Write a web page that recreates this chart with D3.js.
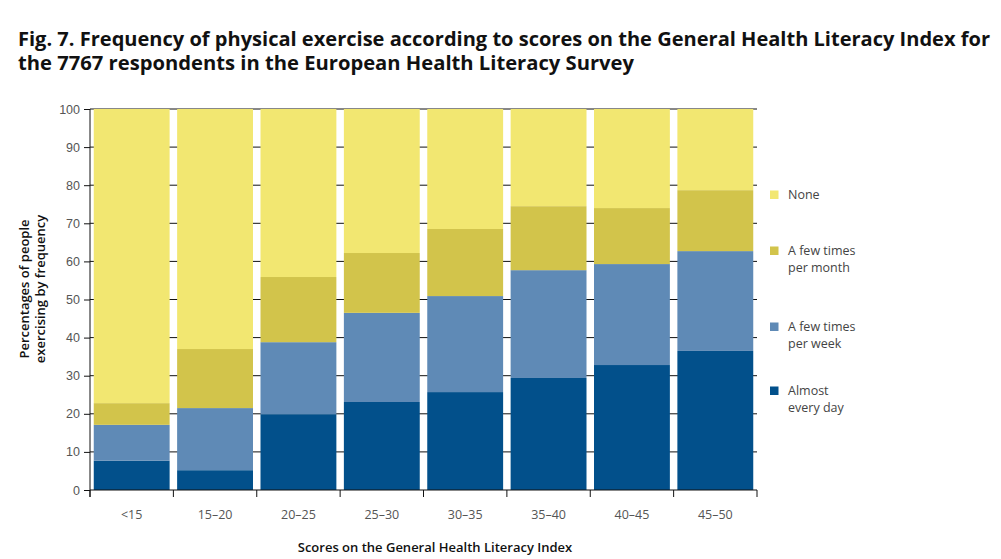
<!DOCTYPE html>
<html>
<head>
<meta charset="utf-8">
<script src="https://cdn.jsdelivr.net/npm/d3@7"></script>
<style>
  body { margin: 0; background: #fff; }
  svg { display: block; font-family: "Open Sans", sans-serif; }
  .tick text { fill: #555; font-size: 12.5px; }
  .legend text { fill: #444; font-size: 12.5px; }
</style>
</head>
<body>
<div class="chart"></div>
<script>
var categories = ["<15", "15\u201320", "20\u201325", "25\u201330", "30\u201335", "35\u201340", "40\u201345", "45\u201350"];
var seriesNames = ["Almost every day", "A few times per week", "A few times per month", "None"];
var legendLines = [["Almost", "every day"], ["A few times", "per week"], ["A few times", "per month"], ["None"]];
var colors = ["#02508b", "#5f8ab6", "#d2c44b", "#f2e771"];

// percentages, bottom segment first
var almostEveryDay = [7.7, 5.2, 19.9, 23.1, 25.7, 29.4, 32.8, 36.5];
var fewPerWeek     = [9.4, 16.3, 18.9, 23.4, 25.2, 28.3, 26.5, 26.2];
var fewPerMonth    = [5.7, 15.5, 17.1, 15.7, 17.6, 16.8, 14.7, 16.0];
var none           = [77.2, 63.0, 44.1, 37.8, 31.5, 25.5, 26.0, 21.3];
var yTicks = [0, 10, 20, 30, 40, 50, 60, 70, 80, 90, 100];

var table = categories.map(function(c, i) {
  return { cat: c, s0: almostEveryDay[i], s1: fewPerWeek[i], s2: fewPerMonth[i], s3: none[i] };
});

var W = 1001, H = 559;
var margin = { top: 109, left: 90, right: 244, bottom: 69 };
var width = W - margin.left - margin.right,
    height = H - margin.top - margin.bottom;

var svg = d3.select('.chart').append('svg')
    .attr('width', W)
    .attr('height', H);

// title, two lines in one text element
var titleLines = [
  { t: 'Fig. 7. Frequency of physical exercise according to scores on the General Health Literacy Index for', y: 46, len: 972 },
  { t: 'the 7767 respondents in the European Health Literacy Survey', y: 70, len: 616 }
];
svg.append('text').attr('class', 'title')
    .style('font-weight', 'bold')
    .style('font-size', '20px')
    .style('fill', '#111')
  .selectAll('tspan')
  .data(titleLines)
  .enter().append('tspan')
    .attr('x', 18)
    .attr('y', function(d) { return d.y; })
    .attr('textLength', function(d) { return d.len; })
    .attr('lengthAdjust', 'spacingAndGlyphs')
    .text(function(d) { return d.t; });

var g = svg.append('g')
    .attr('transform', 'translate(' + margin.left + ',' + margin.top + ')');

var x = d3.scaleBand().domain(categories).range([0, width]).paddingInner(0.09).paddingOuter(0.045);
var y = d3.scaleLinear().domain([0, 100]).range([height, 0]);

// gridlines sit behind the bars, so they only show in the gaps
g.append('g').attr('class', 'grid')
  .selectAll('line')
  .data(yTicks.slice(1))
  .enter().append('line')
    .attr('x1', 0).attr('x2', width)
    .attr('y1', function(d) { return y(d); })
    .attr('y2', function(d) { return y(d); })
    .attr('stroke', '#111').attr('stroke-width', 1);

var stack = d3.stack().keys(['s0', 's1', 's2', 's3']);
var layers = stack(table);

g.selectAll('.layer')
  .data(layers)
  .enter().append('g')
    .attr('class', 'layer')
    .attr('fill', function(d, i) { return colors[i]; })
  .selectAll('rect')
  .data(function(d) { return d; })
  .enter().append('rect')
    .attr('x', function(d) { return x(d.data.cat); })
    .attr('width', x.bandwidth())
    .attr('y', function(d) { return y(d[1]); })
    .attr('height', function(d) { return y(d[0]) - y(d[1]); });

// y axis
var yAxis = g.append('g').attr('class', 'y-axis')
    .call(d3.axisLeft(y).tickValues(yTicks).tickSize(6).tickPadding(4));
yAxis.select('.domain').attr('d', 'M0,0V' + (height + 7)).attr('stroke', '#111');
yAxis.selectAll('.tick line').attr('stroke', '#111');

// x axis: ticks at the band edges, labels in the middle
var edges = categories.map(function(c) { return x(c) - x.step() * x.paddingInner() / 2; });
edges[0] = 0;
edges.push(width);

var xAxis = g.append('g').attr('class', 'x-axis')
    .attr('transform', 'translate(0,' + height + ')');
xAxis.append('line').attr('x1', 0).attr('x2', width).attr('stroke', '#111');
xAxis.selectAll('.edge')
  .data(edges)
  .enter().append('line')
    .attr('class', 'edge')
    .attr('x1', function(d) { return d; }).attr('x2', function(d) { return d; })
    .attr('y1', 0).attr('y2', 7)
    .attr('stroke', '#111');
xAxis.selectAll('.tick')
  .data(categories)
  .enter().append('g').attr('class', 'tick')
  .append('text')
    .attr('x', function(d) { return x(d) + x.bandwidth() / 2; })
    .attr('y', 29)
    .attr('text-anchor', 'middle')
    .text(function(d) { return d; });

// axis titles
svg.append('text')
    .attr('x', 435).attr('y', 552)
    .attr('text-anchor', 'middle')
    .style('font-size', '13px').style('font-weight', '600').style('fill', '#111')
    .text('Scores on the General Health Literacy Index');

var yTitle = svg.append('text')
    .attr('transform', 'translate(0,289) rotate(-90)')
    .attr('text-anchor', 'middle')
    .style('font-size', '13px').style('font-weight', '600').style('fill', '#111');
yTitle.append('tspan').attr('x', 0).attr('y', 29).text('Percentages of people');
yTitle.append('tspan').attr('x', 0).attr('y', 45).text('exercising by frequency');

// legend, top entry is "None"
var legendY = [395, 331, 255, 199];
var legend = svg.append('g').attr('class', 'legend')
  .selectAll('g')
  .data(seriesNames)
  .enter().append('g')
    .attr('transform', function(d, i) { return 'translate(770,' + legendY[i] + ')'; });
legend.append('rect')
    .attr('x', 0).attr('y', -8.5).attr('width', 8.5).attr('height', 8.5)
    .attr('fill', function(d, i) { return colors[i]; });
legend.append('text')
    .attr('x', 18)
  .selectAll('tspan')
  .data(function(d, i) { return legendLines[i]; })
  .enter().append('tspan')
    .attr('x', 18)
    .attr('dy', function(d, j) { return j ? 17 : 0; })
    .text(function(d) { return d; });
</script>
</body>
</html>
